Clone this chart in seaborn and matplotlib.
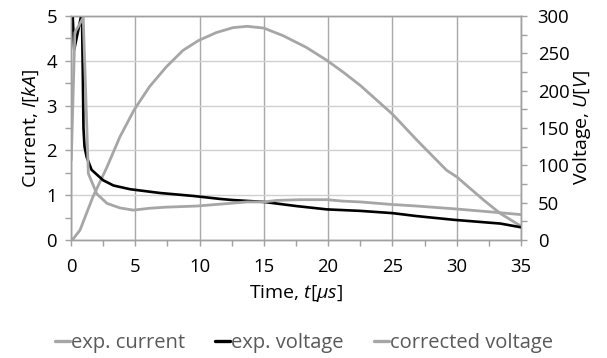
import matplotlib
matplotlib.use("Agg")
import matplotlib.pyplot as plt
import seaborn as sns
import pandas as pd
from matplotlib.ticker import MultipleLocator
from matplotlib.lines import Line2D

# ---- data ----
t_current = [0.1, 0.7, 1.7, 2.8, 3.8, 4.9, 6.1, 7.4, 8.7, 9.9, 11.3, 12.6, 13.7, 15.0,
             16.5, 18.3, 19.9, 21.2, 22.5, 25.0, 26.9, 29.2, 30.0, 32.1, 33.4, 35.0]
current_kA = [0.0, 0.22, 0.96, 1.63, 2.30, 2.90, 3.42, 3.86, 4.23, 4.45, 4.63, 4.74, 4.77, 4.73,
              4.56, 4.30, 4.01, 3.74, 3.45, 2.81, 2.23, 1.56, 1.41, 0.89, 0.59, 0.31]

t_voltage = [0.05, 0.25, 0.85, 0.92, 0.97, 1.05, 1.22, 1.6, 2.5, 3.3, 4.6, 6.9, 9.5, 11.6,
             12.6, 15.0, 17.5, 19.9, 22.5, 25.0, 26.9, 29.8, 33.4, 35.0]
voltage_V = [330, 255, 305, 220, 150, 125, 111, 94, 80, 73, 68, 63, 59, 55,
             53.5, 51, 45.5, 41, 39, 36, 32, 27, 22, 17]

t_corr = [0.02, 0.3, 0.6, 0.95, 1.35, 2.0, 2.8, 3.8, 4.85, 6.1, 7.4, 9.8, 11.6, 13.7,
          15.0, 16.0, 17.8, 19.9, 21.2, 22.5, 25.0, 26.9, 30.0, 33.4, 35.0]
corr_V = [107, 278, 287, 298, 89, 62, 49, 43, 40, 42.5, 44, 45.5, 48, 51,
          51, 53, 54, 54, 52, 51, 47.5, 45.5, 41.5, 36.5, 34]

x_ticks = [0, 5, 10, 15, 20, 25, 30, 35]
left_ticks = [0, 1, 2, 3, 4, 5]
right_ticks = [0, 50, 100, 150, 200, 250, 300]

GRAY = "#A6A6A6"
BLACK = "#000000"

sns.set_theme(style="white")
plt.rcParams["font.family"] = ["Open Sans", "DejaVu Sans"]
plt.rcParams["mathtext.fontset"] = "custom"
plt.rcParams["mathtext.rm"] = "Open Sans"
plt.rcParams["mathtext.it"] = "Open Sans:italic"

fig = plt.figure(figsize=(6.07, 3.58), dpi=100)
ax = fig.add_axes([71/607, 1-240/358, 450/607, 224/358])
ax2 = ax.twinx()

df_c = pd.DataFrame({"t": t_current, "v": current_kA})
df_v = pd.DataFrame({"t": t_voltage, "v": voltage_V})
df_k = pd.DataFrame({"t": t_corr, "v": corr_V})

sns.lineplot(data=df_c, x="t", y="v", ax=ax, color=GRAY, lw=2.0, sort=False, estimator=None)
sns.lineplot(data=df_v, x="t", y="v", ax=ax2, color=BLACK, lw=1.9, sort=False, estimator=None)
sns.lineplot(data=df_k, x="t", y="v", ax=ax2, color=GRAY, lw=2.0, sort=False, estimator=None)

ax.set_xlim(0, 35)
ax.set_ylim(0, 5)
ax2.set_ylim(0, 300)
ax.set_xticks(x_ticks)
ax.set_yticks(left_ticks)
ax2.set_yticks(right_ticks)
ax.xaxis.set_minor_locator(MultipleLocator(2.5))
ax.yaxis.set_minor_locator(MultipleLocator(0.5))
ax2.yaxis.set_minor_locator(MultipleLocator(25))

ax.grid(True, axis="y", color="#D0D0D0", lw=1.0)
ax.grid(True, axis="x", color="#A8A8A8", lw=1.0)
ax.set_axisbelow(True)

for a in (ax, ax2):
    for s in a.spines.values():
        s.set_color("#A0A0A0")
        s.set_linewidth(1.0)
    a.spines["top"].set_visible(True)
    a.tick_params(which="both", direction="out", length=4, width=1.0, color="#A0A0A0",
                  labelsize=13.3, labelcolor="black")
ax.tick_params(axis="y", which="both", left=True, right=False, pad=6)
ax.tick_params(axis="x", which="both", bottom=True, pad=9)
ax2.tick_params(axis="y", which="both", right=True, left=False, pad=8)

ax.set_xlabel("Time, $\\mathit{t[µs]}$", fontsize=14, color="black", labelpad=5)
ax.set_ylabel("Current, $\\mathit{I[kA]}$", fontsize=14, color="black", labelpad=4)
ax2.set_ylabel("Voltage, $\\mathit{U[V]}$", fontsize=14, color="black", labelpad=1)

handles = [Line2D([], [], color=GRAY, lw=2.4),
           Line2D([], [], color=BLACK, lw=2.4),
           Line2D([], [], color=GRAY, lw=2.4)]
labels = ["exp. current", "exp. voltage", "corrected voltage"]
fig.legend(handles, labels, loc="center", bbox_to_anchor=(0.501, 1-343/358), ncol=3,
           frameon=False, fontsize=14.5, handlelength=0.75, handletextpad=0.05,
           columnspacing=1.5, labelcolor="#595959")

fig.savefig("out.png", dpi=100)
